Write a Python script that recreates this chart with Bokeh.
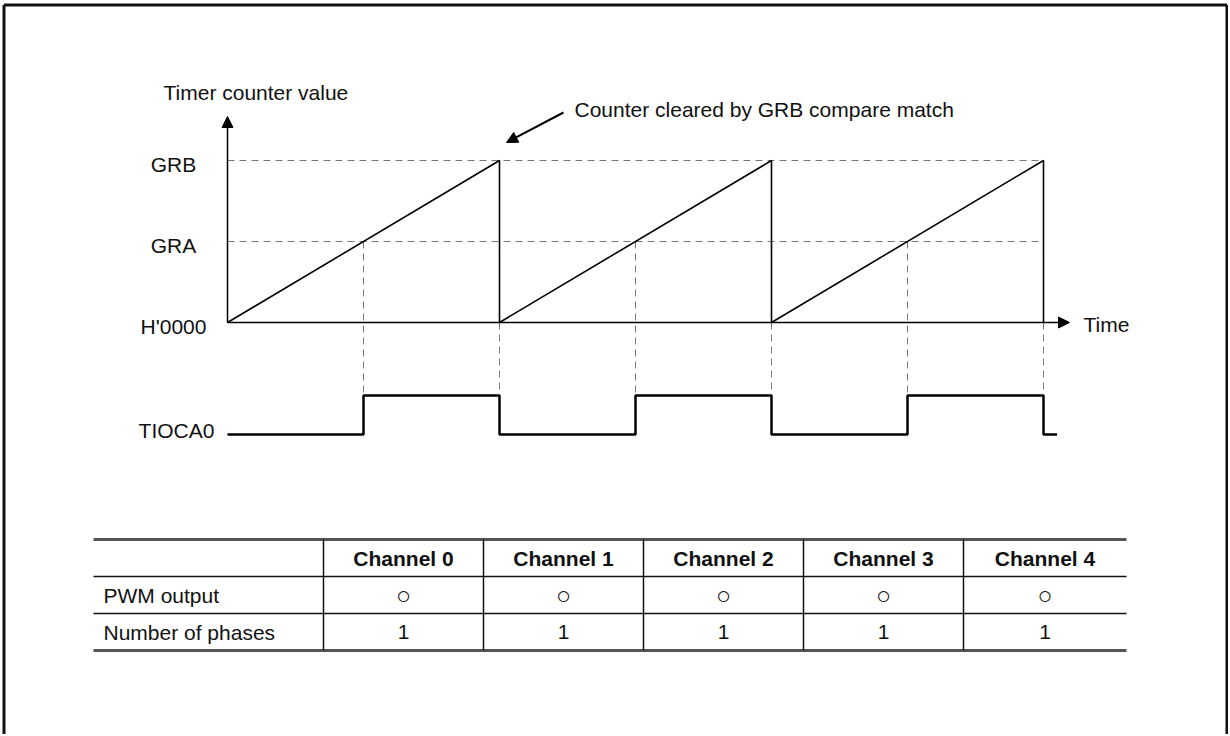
from bokeh.plotting import figure
from bokeh.models import Range1d, Arrow, NormalHead
from bokeh.core.properties import value
from bokeh.embed import file_html
from bokeh.resources import INLINE

# ---------------- data ----------------
# counter waveform (time in periods, value as fraction of GRB)
counter_t = [0, 1, 1, 2, 2, 3, 3]
counter_v = [0, 1, 0, 1, 0, 1, 0]
GRB = 1.0
GRA = 0.5
level_labels = ["GRB", "GRA", "H'0000"]
level_values = [1.0, 0.5, 0.0]
clear_times = [1, 2, 3]
match_times = [0.5, 1.5, 2.5]
# TIOCA0 output (0 = low, 1 = high)
tioca_t = [0, 0.5, 0.5, 1, 1, 1.5, 1.5, 2, 2, 2.5, 2.5, 3, 3, 3.05]
tioca_lv = [0, 0, 1, 1, 0, 0, 1, 1, 0, 0, 1, 1, 0, 0]
# table
row_labels = ["PWM output", "Number of phases"]
channels = ["Channel 0", "Channel 1", "Channel 2", "Channel 3", "Channel 4"]
pwm_output = ["○", "○", "○", "○", "○"]
phases = ["1", "1", "1", "1", "1"]

# ---------------- layout (reference pixel geometry) ----------------
W, H = 1228, 734
OFF = 0
X0, PER = 227, 272      # t=0 pixel, pixels per period
Y0, VS = 322, 162       # H'0000 pixel, pixels per GRB


def X(px):
    return (px - X0) / PER


def Y(py):
    return (Y0 - py) / VS


TI_LOW, TI_HIGH = Y(434), Y(395)


def ti(lv):
    return TI_LOW + lv * (TI_HIGH - TI_LOW)


FONT = value("Liberation Sans")
FS = "21px"

p = figure(width=W, height=H, output_backend="svg", toolbar_location=None,
           x_range=Range1d(X(OFF), X(OFF + W)), y_range=Range1d(Y(OFF + H), Y(OFF)),
           x_axis_type=None, y_axis_type=None, min_border=0)
p.grid.visible = False
p.outline_line_color = None
p.background_fill_color = "white"
p.border_fill_color = "white"

# outer frame (left, top, right)
p.segment(x0=[X(3.5), X(3.5), X(1226.5)], y0=[Y(750), Y(4.5), Y(4.5)],
          x1=[X(3.5), X(1226.5), X(1226.5)], y1=[Y(4.5), Y(4.5), Y(750)],
          line_color="#111111", line_width=3)

DASH = "7 5"
DCOL = "#777777"
# horizontal dashed reference lines GRB / GRA
p.segment(x0=[0, 0], y0=[GRB, GRA], x1=[clear_times[-1]] * 2, y1=[GRB, GRA],
          line_color=DCOL, line_width=1, line_dash=DASH)
# vertical dashed lines from GRA crossings down to TIOCA high level
p.segment(x0=match_times, y0=[GRA] * 3, x1=match_times, y1=[TI_HIGH] * 3,
          line_color=DCOL, line_width=1, line_dash=DASH)
# vertical dashed lines from clear points down
p.segment(x0=clear_times, y0=[0] * 3, x1=clear_times, y1=[TI_HIGH] * 3,
          line_color=DCOL, line_width=1, line_dash=DASH)


def head():
    return NormalHead(size=11, fill_color="black", fill_alpha=1.0,
                      line_color="black", line_width=1)


# axes arrows
p.add_layout(Arrow(end=head(), x_start=0, y_start=0, x_end=0, y_end=Y(116),
                   line_color="black", line_width=1.5))
p.add_layout(Arrow(end=head(), x_start=0, y_start=0, x_end=X(1069), y_end=0,
                   line_color="black", line_width=1.5))
# pointer arrow
p.add_layout(Arrow(end=head(), x_start=X(563), y_start=Y(112), x_end=X(506),
                   y_end=Y(142), line_color="black", line_width=2))

# counter sawtooth
p.line(counter_t, counter_v, line_color="black", line_width=1.6)

# TIOCA0 output
p.line(tioca_t, [ti(v) for v in tioca_lv], line_color="black", line_width=2.5)

# labels
p.text(x=[X(173)] * 3, y=[v - 4 / VS for v in level_values], text=level_labels,
       text_font=FONT, text_font_size=FS, text_align="center",
       text_baseline="middle", text_color="#111111")
p.text(x=[X(176)], y=[Y(430)], text=["TIOCA0"], text_font=FONT, text_font_size=FS,
       text_align="center", text_baseline="middle", text_color="#111111")
p.text(x=[X(163)], y=[Y(92)], text=["Timer counter value"], text_font=FONT,
       text_font_size=FS, text_align="left", text_baseline="middle",
       text_color="#111111")
p.text(x=[X(574)], y=[Y(109)], text=["Counter cleared by GRB compare match"],
       text_font=FONT, text_font_size=FS, text_align="left",
       text_baseline="middle", text_color="#111111")
p.text(x=[X(1083)], y=[Y(324)], text=["Time"], text_font=FONT, text_font_size=FS,
       text_align="left", text_baseline="middle", text_color="#111111")

# ---------------- table ----------------
cols = [93, 323, 483, 643, 803, 963, 1126]
rows = [539, 576, 613, 650]
p.segment(x0=[X(cols[0])] * 2, y0=[Y(rows[0]), Y(rows[3])],
          x1=[X(cols[-1])] * 2, y1=[Y(rows[0]), Y(rows[3])],
          line_color="#555555", line_width=3)
p.segment(x0=[X(cols[0])] * 2, y0=[Y(rows[1]), Y(rows[2])],
          x1=[X(cols[-1])] * 2, y1=[Y(rows[1]), Y(rows[2])],
          line_color="#111111", line_width=1.5)
p.segment(x0=[X(c) for c in cols[1:-1]], y0=[Y(rows[0])] * 5,
          x1=[X(c) for c in cols[1:-1]], y1=[Y(rows[3])] * 5,
          line_color="#111111", line_width=1.5)

centers = [X((cols[i] + cols[i + 1]) / 2) for i in range(1, 6)]
rc = [Y((rows[i] + rows[i + 1]) / 2) for i in range(3)]
p.text(x=centers, y=[rc[0]] * 5, text=channels, text_font=FONT, text_font_size="21px",
       text_font_style="bold", text_align="center", text_baseline="middle",
       text_color="#111111")
p.text(x=centers, y=[rc[1]] * 5, text=pwm_output, text_font=FONT, text_font_size="25px",
       text_align="center", text_baseline="middle", text_color="#111111")
p.text(x=centers, y=[rc[2]] * 5, text=phases, text_font=FONT, text_font_size=FS,
       text_align="center", text_baseline="middle", text_color="#111111")
p.text(x=[X(103)] * 2, y=rc[1:], text=row_labels, text_font=FONT, text_font_size=FS,
       text_align="left", text_baseline="middle", text_color="#111111")

open("out.html", "w").write(file_html(p, INLINE))
